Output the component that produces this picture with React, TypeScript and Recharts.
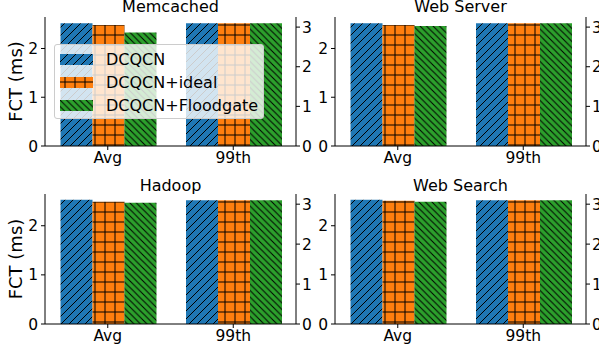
import React from "react"
import { BarChart, Bar, XAxis, YAxis } from "recharts"

// values (Avg on the left axis, 99th on the right axis)
const categories = ["Avg", "99th"]
const titles = ["Memcached", "Web Server", "Hadoop", "Web Search"]
const dcqcnAvg = [2.52, 2.52, 2.53, 2.53]
const idealAvg = [2.48, 2.48, 2.49, 2.51]
const floodAvg = [2.33, 2.46, 2.47, 2.49]
const dcqcn99 = [3.1, 3.1, 3.1, 3.1]
const ideal99 = [3.1, 3.1, 3.1, 3.1]
const flood99 = [3.1, 3.1, 3.1, 3.1]
const leftTicks = [0, 1, 2]
const rightTicks = [0, 1, 2, 3]
const leftMax = 2.646
const rightMax = 3.255

const seriesNames = ["DCQCN", "DCQCN+ideal", "DCQCN+Floodgate"]
const fills = ["url(#hBlue)", "url(#hOrange)", "url(#hGreen)"]

const font = '"DejaVu Sans", sans-serif'
const tickStyle = { fill: "#000", fontSize: 15.5, fontFamily: font }

// where each subplot sits on the page
const panels = [
  { left: 0, top: 0, plotH: 129, title: 12, ylabel: true },
  { left: 290, top: 0, plotH: 129, title: 12, ylabel: false },
  { left: 0, top: 177, plotH: 130, title: 190.5, ylabel: true },
  { left: 290, top: 177, plotH: 130, title: 190.5, ylabel: false },
]

function buildRows(i: number) {
  return categories.map((cat, c) => ({
    cat,
    a0: c === 0 ? dcqcnAvg[i] : null,
    a1: c === 0 ? idealAvg[i] : null,
    a2: c === 0 ? floodAvg[i] : null,
    p0: c === 1 ? dcqcn99[i] : null,
    p1: c === 1 ? ideal99[i] : null,
    p2: c === 1 ? flood99[i] : null,
  }))
}

function Panel({ i }: { i: number }) {
  const p = panels[i]
  const height = 17 + p.plotH + 25
  return (
    <div style={{ position: "absolute", left: p.left, top: p.top }}>
      <BarChart
        width={45 + 251 + 25}
        height={height}
        data={buildRows(i)}
        margin={{ top: 17, right: 0, bottom: 0, left: 0 }}
        barCategoryGap={15.5}
        barGap={0}
      >
        <XAxis
          xAxisId="bottom"
          dataKey="cat"
          height={25}
          tick={tickStyle}
          tickSize={4}
          tickMargin={2}
          axisLine={{ stroke: "#000" }}
          tickLine={{ stroke: "#000" }}
        />
        <XAxis xAxisId="top" dataKey="cat" orientation="top" height={0} tick={false} tickLine={false} axisLine={{ stroke: "#000" }} />
        <YAxis
          yAxisId="left"
          width={45}
          domain={[0, leftMax]}
          ticks={leftTicks}
          allowDataOverflow
          tick={tickStyle}
          tickSize={4}
          tickMargin={3}
          axisLine={{ stroke: "#000" }}
          tickLine={{ stroke: "#000" }}
        />
        <YAxis
          yAxisId="right"
          orientation="right"
          width={25}
          domain={[0, rightMax]}
          ticks={rightTicks}
          allowDataOverflow
          tick={tickStyle}
          tickSize={4}
          tickMargin={2}
          axisLine={{ stroke: "#000" }}
          tickLine={{ stroke: "#000" }}
        />
        {[0, 1, 2].map((k) => (
          <Bar key={"a" + k} dataKey={"a" + k} xAxisId="bottom" yAxisId="left" fill={fills[k]} isAnimationActive={false} />
        ))}
        {[0, 1, 2].map((k) => (
          <Bar key={"p" + k} dataKey={"p" + k} xAxisId="top" yAxisId="right" fill={fills[k]} isAnimationActive={false} />
        ))}
      </BarChart>
    </div>
  )
}

function Legend() {
  return (
    <div
      style={{
        position: "absolute",
        left: 54,
        top: 44,
        width: 208,
        height: 73,
        border: "1px solid #cccccc",
        borderRadius: 3,
        background: "rgba(255,255,255,0.8)",
        fontFamily: font,
        fontSize: 16,
      }}
    >
      {seriesNames.map((name, k) => (
        <div key={name} style={{ position: "absolute", left: 5, top: 3 + k * 23, height: 23, display: "flex", alignItems: "center", whiteSpace: "nowrap" }}>
          <svg width={33} height={11} style={{ display: "block" }}>
            <rect width={33} height={11} fill={fills[k]} />
          </svg>
          <span style={{ marginLeft: 13, color: "#000" }}>{name}</span>
        </div>
      ))}
    </div>
  )
}

export default function App() {
  const gs = 6.5
  return (
    <div style={{ position: "absolute", left: 0, top: 0, width: 599, height: 352, overflow: "hidden", background: "#fff" }}>
      <svg width={0} height={0} style={{ position: "absolute" }}>
        <defs>
          <pattern id="hBlue" patternUnits="userSpaceOnUse" width={8} height={8}>
            <rect width={8} height={8} fill="#1f77b4" />
            <path d="M0,8 L8,0 M-2,2 L2,-2 M6,10 L10,6" stroke="#000" strokeWidth={1} />
          </pattern>
          <pattern id="hOrange" patternUnits="userSpaceOnUse" width={10} height={10}>
            <rect width={10} height={10} fill="#ff7f0e" />
            <path d="M0,5 H10 M5,0 V10" stroke="#000" strokeWidth={1} />
          </pattern>
          <pattern id="hGreen" patternUnits="userSpaceOnUse" width={gs} height={gs}>
            <rect width={gs} height={gs} fill="#2ca02c" />
            <path d={`M0,0 L${gs},${gs} M-2,${gs - 2} L2,${gs + 2} M${gs - 2},-2 L${gs + 2},2`} stroke="#000" strokeWidth={1} />
          </pattern>
        </defs>
      </svg>
      {panels.map((_, i) => (
        <Panel key={i} i={i} />
      ))}
      <svg width={599} height={352} style={{ position: "absolute", left: 0, top: 0, pointerEvents: "none" }}>
        {panels.map((p, i) => (
          <text key={"t" + i} x={p.left + 45 + 125.5} y={p.title} textAnchor="middle" fontFamily={font} fontSize={16} fill="#000">
            {titles[i]}
          </text>
        ))}
        {panels
          .filter((p) => p.ylabel)
          .map((p, i) => (
            <text
              key={"y" + i}
              x={22}
              y={p.top + 17 + p.plotH / 2}
              transform={`rotate(-90 22 ${p.top + 17 + p.plotH / 2})`}
              textAnchor="middle"
              fontFamily={font}
              fontSize={18}
              fill="#000"
            >
              FCT (ms)
            </text>
          ))}
      </svg>
      <Legend />
    </div>
  )
}
